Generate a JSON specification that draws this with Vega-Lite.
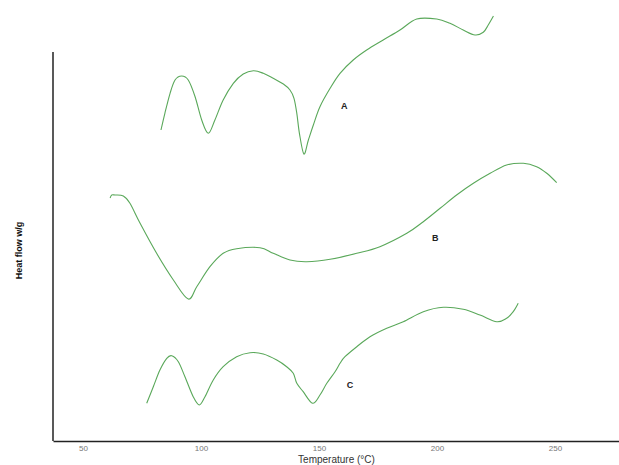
{
  "$schema": "https://vega.github.io/schema/vega-lite/v6.json",
  "autosize": {"type": "none"},
  "padding": {"left": 53, "top": 10, "right": 0, "bottom": 24},
  "width": 566,
  "height": 431,
  "background": "white",
  "config": {"view": {"stroke": null}},
  "datasets": {
    "curves": [
      {"s": "A", "t": 83.05, "v": 311}, {"s": "A", "t": 84.7, "v": 327.7}, {"s": "A", "t": 86.9, "v": 347.7}, {"s": "A", "t": 89.0, "v": 361}, {"s": "A", "t": 91.8, "v": 365}, {"s": "A", "t": 94.6, "v": 361}, {"s": "A", "t": 97.5, "v": 344.3}, {"s": "A", "t": 100.3, "v": 321}, {"s": "A", "t": 103.1, "v": 307.7}, {"s": "A", "t": 105.9, "v": 321}, {"s": "A", "t": 109.4, "v": 341}, {"s": "A", "t": 113.7, "v": 357.7}, {"s": "A", "t": 117.9, "v": 367}, {"s": "A", "t": 122.2, "v": 370.3}, {"s": "A", "t": 126.4, "v": 367.7}, {"s": "A", "t": 130.6, "v": 362.7}, {"s": "A", "t": 134.9, "v": 357}, {"s": "A", "t": 137.7, "v": 351}, {"s": "A", "t": 139.4, "v": 342.7}, {"s": "A", "t": 140.6, "v": 327.7}, {"s": "A", "t": 141.7, "v": 307.7}, {"s": "A", "t": 143.6, "v": 287}, {"s": "A", "t": 145.5, "v": 301}, {"s": "A", "t": 147.6, "v": 316}, {"s": "A", "t": 150.4, "v": 334.3}, {"s": "A", "t": 154.7, "v": 352.7}, {"s": "A", "t": 158.9, "v": 367.7}, {"s": "A", "t": 164.5, "v": 381}, {"s": "A", "t": 170.2, "v": 391}, {"s": "A", "t": 177.2, "v": 401}, {"s": "A", "t": 184.3, "v": 411}, {"s": "A", "t": 191.4, "v": 422}, {"s": "A", "t": 199.9, "v": 422}, {"s": "A", "t": 205.5, "v": 417.7}, {"s": "A", "t": 211.1, "v": 411}, {"s": "A", "t": 216.1, "v": 406}, {"s": "A", "t": 219.6, "v": 408.7}, {"s": "A", "t": 221.7, "v": 416}, {"s": "A", "t": 223.9, "v": 425},
      {"s": "B", "t": 61.5, "v": 243}, {"s": "B", "t": 62.2, "v": 246}, {"s": "B", "t": 63.6, "v": 246}, {"s": "B", "t": 67.1, "v": 245}, {"s": "B", "t": 69.9, "v": 237.7}, {"s": "B", "t": 74.2, "v": 217.7}, {"s": "B", "t": 81.2, "v": 187.7}, {"s": "B", "t": 88.3, "v": 161}, {"s": "B", "t": 94.6, "v": 142}, {"s": "B", "t": 98.2, "v": 154.3}, {"s": "B", "t": 103.8, "v": 174.3}, {"s": "B", "t": 109.4, "v": 187.7}, {"s": "B", "t": 115.1, "v": 192.3}, {"s": "B", "t": 125.0, "v": 193.3}, {"s": "B", "t": 130.6, "v": 187.7}, {"s": "B", "t": 137.7, "v": 181}, {"s": "B", "t": 144.8, "v": 179.3}, {"s": "B", "t": 154.7, "v": 181.7}, {"s": "B", "t": 166.0, "v": 187.7}, {"s": "B", "t": 175.8, "v": 194.3}, {"s": "B", "t": 187.2, "v": 207.7}, {"s": "B", "t": 194.2, "v": 219.3}, {"s": "B", "t": 201.3, "v": 232.7}, {"s": "B", "t": 208.3, "v": 246}, {"s": "B", "t": 215.4, "v": 257.7}, {"s": "B", "t": 222.5, "v": 267.7}, {"s": "B", "t": 229.5, "v": 276}, {"s": "B", "t": 236.6, "v": 277.7}, {"s": "B", "t": 242.2, "v": 274.3}, {"s": "B", "t": 246.5, "v": 267.7}, {"s": "B", "t": 250.7, "v": 258.3},
      {"s": "C", "t": 77.0, "v": 37.7}, {"s": "C", "t": 79.8, "v": 54.3}, {"s": "C", "t": 82.6, "v": 71}, {"s": "C", "t": 85.5, "v": 82.7}, {"s": "C", "t": 87.6, "v": 85.3}, {"s": "C", "t": 90.4, "v": 79.3}, {"s": "C", "t": 93.2, "v": 64.3}, {"s": "C", "t": 96.7, "v": 44.3}, {"s": "C", "t": 99.3, "v": 36}, {"s": "C", "t": 101.7, "v": 44.3}, {"s": "C", "t": 105.2, "v": 61}, {"s": "C", "t": 109.4, "v": 74.3}, {"s": "C", "t": 115.1, "v": 84.3}, {"s": "C", "t": 120.8, "v": 88.3}, {"s": "C", "t": 126.4, "v": 87}, {"s": "C", "t": 132.1, "v": 81}, {"s": "C", "t": 136.3, "v": 74.3}, {"s": "C", "t": 139.1, "v": 67.7}, {"s": "C", "t": 140.6, "v": 57.7}, {"s": "C", "t": 143.3, "v": 49.3}, {"s": "C", "t": 147.3, "v": 37.7}, {"s": "C", "t": 150.4, "v": 46}, {"s": "C", "t": 153.3, "v": 57.7}, {"s": "C", "t": 156.8, "v": 69.3}, {"s": "C", "t": 158.9, "v": 77.7}, {"s": "C", "t": 161.0, "v": 84.3}, {"s": "C", "t": 166.0, "v": 94.3}, {"s": "C", "t": 171.6, "v": 104.3}, {"s": "C", "t": 178.7, "v": 112.7}, {"s": "C", "t": 185.7, "v": 119.3}, {"s": "C", "t": 194.2, "v": 129.3}, {"s": "C", "t": 202.7, "v": 133.7}, {"s": "C", "t": 211.1, "v": 131.7}, {"s": "C", "t": 218.2, "v": 126}, {"s": "C", "t": 225.3, "v": 119.3}, {"s": "C", "t": 229.5, "v": 122.7}, {"s": "C", "t": 232.3, "v": 129.3}, {"s": "C", "t": 234.4, "v": 137.7}
    ],
    "labels": [
      {"s": "A", "t": 160.7, "v": 335},
      {"s": "B", "t": 199.2, "v": 202.7},
      {"s": "C", "t": 163.1, "v": 56}
    ],
    "yline": [{"t": 37.3, "v0": 0, "v1": 389}]
  },
  "layer": [
    {
      "data": {"name": "yline"},
      "mark": {"type": "rule", "color": "#222222", "strokeWidth": 1.5},
      "encoding": {
        "x": {"field": "t", "type": "quantitative", "scale": {"domain": [37.3, 277.1], "nice": false, "zero": false},
          "axis": {"values": [50, 100, 150, 200, 250], "title": "Temperature (°C)", "titleFont": "Liberation Sans", "titleFontSize": 10, "titleFontWeight": "normal", "titleColor": "#333333", "titlePadding": 2, "labelFont": "Liberation Sans", "labelFontSize": 8, "labelColor": "#777777", "labelPadding": 3, "ticks": false, "grid": false, "domainColor": "#222222", "domainWidth": 1.5}},
        "y": {"field": "v0", "type": "quantitative", "scale": {"domain": [0, 431], "nice": false},
          "axis": {"title": "Heat flow w/g", "titleFont": "Liberation Sans", "titleFontSize": 9, "titleFontWeight": "bold", "titleColor": "#111111", "titleX": -30, "titleY": 240, "labels": false, "ticks": false, "grid": false, "domain": false}},
        "y2": {"field": "v1"}
      }
    },
    {
      "data": {"name": "curves"},
      "mark": {"type": "line", "interpolate": "cardinal", "color": "#5aa85a", "strokeWidth": 1.1},
      "encoding": {
        "x": {"field": "t", "type": "quantitative"},
        "y": {"field": "v", "type": "quantitative"},
        "detail": {"field": "s"}
      }
    },
    {
      "data": {"name": "labels"},
      "mark": {"type": "text", "font": "Liberation Sans", "fontSize": 9, "fontWeight": "bold", "color": "#222222"},
      "encoding": {
        "x": {"field": "t", "type": "quantitative"},
        "y": {"field": "v", "type": "quantitative"},
        "text": {"field": "s"}
      }
    }
  ]
}
